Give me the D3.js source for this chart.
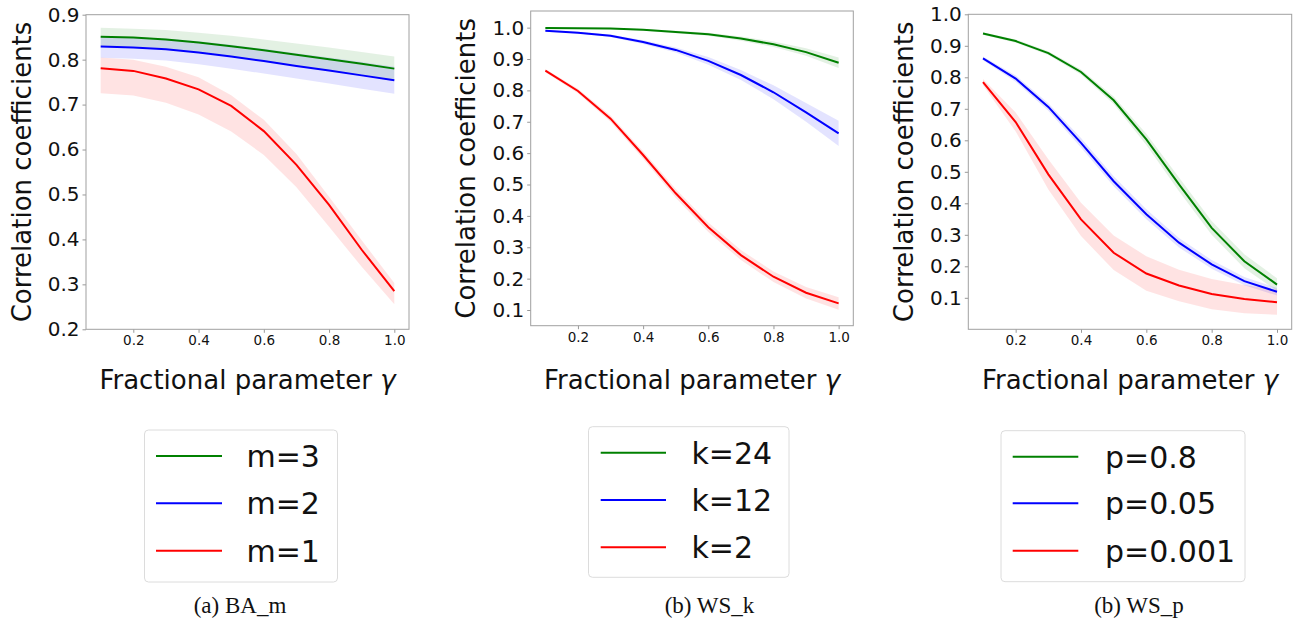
<!DOCTYPE html>
<html>
<head>
<meta charset="utf-8">
<script src="https://cdn.jsdelivr.net/npm/d3@7"></script>
<style>
  body { margin: 0; background: #fff; }
  text { font-family: "DejaVu Sans", sans-serif; }
</style>
</head>
<body>
<svg id="chart" width="1297" height="631"></svg>
<script>
// fractional parameter gamma
const gamma = [0.1, 0.2, 0.3, 0.4, 0.5, 0.6, 0.7, 0.8, 0.9, 1.0];

// (a) BA_m
const baM3 = [0.851, 0.849, 0.845, 0.838, 0.830, 0.821, 0.811, 0.801, 0.791, 0.780];
const baM3Hi = [0.871, 0.869, 0.866, 0.860, 0.853, 0.845, 0.836, 0.827, 0.817, 0.807];
const baM3Lo = [0.831, 0.829, 0.824, 0.816, 0.807, 0.797, 0.786, 0.775, 0.765, 0.753];
const baM2 = [0.829, 0.827, 0.823, 0.816, 0.807, 0.797, 0.786, 0.776, 0.765, 0.754];
const baM2Hi = [0.851, 0.850, 0.847, 0.841, 0.833, 0.824, 0.814, 0.805, 0.795, 0.784];
const baM2Lo = [0.804, 0.802, 0.798, 0.790, 0.780, 0.769, 0.758, 0.747, 0.735, 0.724];
const baM1 = [0.781, 0.775, 0.758, 0.734, 0.697, 0.641, 0.566, 0.477, 0.377, 0.285];
const baM1Hi = [0.805, 0.800, 0.784, 0.761, 0.721, 0.666, 0.590, 0.495, 0.398, 0.303];
const baM1Lo = [0.725, 0.720, 0.704, 0.678, 0.640, 0.588, 0.516, 0.428, 0.339, 0.256];

// (b) WS_k
const wsK24 = [0.999, 0.998, 0.997, 0.993, 0.986, 0.979, 0.965, 0.947, 0.922, 0.888];
const wsK24Hi = [1.001, 1.000, 0.999, 0.996, 0.990, 0.984, 0.972, 0.956, 0.934, 0.905];
const wsK24Lo = [0.997, 0.996, 0.995, 0.990, 0.982, 0.974, 0.958, 0.938, 0.910, 0.871];
const wsK12 = [0.990, 0.984, 0.974, 0.954, 0.929, 0.894, 0.849, 0.794, 0.730, 0.663];
const wsK12Hi = [0.993, 0.987, 0.978, 0.960, 0.937, 0.906, 0.865, 0.816, 0.760, 0.703];
const wsK12Lo = [0.987, 0.981, 0.970, 0.948, 0.921, 0.882, 0.833, 0.772, 0.700, 0.623];
const wsK2 = [0.863, 0.798, 0.710, 0.594, 0.472, 0.364, 0.275, 0.206, 0.155, 0.121];
const wsK2Hi = [0.868, 0.805, 0.720, 0.606, 0.486, 0.379, 0.291, 0.223, 0.173, 0.141];
const wsK2Lo = [0.858, 0.791, 0.700, 0.582, 0.458, 0.349, 0.259, 0.189, 0.137, 0.101];

// (b) WS_p
const wsP08 = [0.939, 0.915, 0.877, 0.817, 0.727, 0.603, 0.460, 0.322, 0.216, 0.142];
const wsP08Hi = [0.943, 0.920, 0.883, 0.825, 0.739, 0.621, 0.482, 0.344, 0.238, 0.162];
const wsP08Lo = [0.935, 0.910, 0.871, 0.809, 0.715, 0.585, 0.438, 0.300, 0.194, 0.122];
const wsP005 = [0.860, 0.796, 0.706, 0.592, 0.470, 0.365, 0.275, 0.206, 0.153, 0.119];
const wsP005Hi = [0.866, 0.806, 0.718, 0.607, 0.486, 0.381, 0.290, 0.220, 0.166, 0.131];
const wsP005Lo = [0.854, 0.786, 0.694, 0.577, 0.454, 0.349, 0.260, 0.192, 0.140, 0.107];
const wsP0001 = [0.785, 0.658, 0.492, 0.349, 0.243, 0.177, 0.139, 0.112, 0.096, 0.086];
const wsP0001Hi = [0.795, 0.688, 0.540, 0.402, 0.298, 0.232, 0.189, 0.160, 0.141, 0.126];
const wsP0001Lo = [0.775, 0.628, 0.444, 0.296, 0.188, 0.122, 0.089, 0.064, 0.051, 0.046];

const xTicks = [0.2, 0.4, 0.6, 0.8, 1.0];
const yTicksA = [0.2, 0.3, 0.4, 0.5, 0.6, 0.7, 0.8, 0.9];
const yTicksB = [0.1, 0.2, 0.3, 0.4, 0.5, 0.6, 0.7, 0.8, 0.9, 1.0];
const legendA = ["m=3", "m=2", "m=1"];
const legendB = ["k=24", "k=12", "k=2"];
const legendC = ["p=0.8", "p=0.05", "p=0.001"];
const captions = ["(a) BA_m", "(b) WS_k", "(b) WS_p"];
const colors = ["#008000", "#0000ff", "#ff0000"];

const panels = [
  { left: 86, right: 409, top: 14.7, bottom: 329.3, yDomain: [0.2, 0.9], yTicks: yTicksA,
    series: [[baM3, baM3Lo, baM3Hi], [baM2, baM2Lo, baM2Hi], [baM1, baM1Lo, baM1Hi]],
    ylabX: 31, legend: legendA, leg: { x: 144.5, y: 430, w: 193, h: 152, lx: 156, lw: 66, tx: 246.5, rows: [456, 503.3, 550.7] },
    caption: captions[0], capX: 240 },
  { left: 530.7, right: 853.3, top: 11, bottom: 325.7, yDomain: [0.05, 1.053], yTicks: yTicksB,
    series: [[wsK24, wsK24Lo, wsK24Hi], [wsK12, wsK12Lo, wsK12Hi], [wsK2, wsK2Lo, wsK2Hi]],
    ylabX: 475, legend: legendB, leg: { x: 588.5, y: 426.7, w: 200.5, h: 150.6, lx: 600.7, lw: 65.3, tx: 691.5, rows: [452.7, 500, 547.3] },
    caption: captions[1], capX: 709.5 },
  { left: 968.3, right: 1291.7, top: 14.3, bottom: 329.3, yDomain: [0.0, 1.0], yTicks: yTicksB,
    series: [[wsP08, wsP08Lo, wsP08Hi], [wsP005, wsP005Lo, wsP005Hi], [wsP0001, wsP0001Lo, wsP0001Hi]],
    ylabX: 913, legend: legendC, leg: { x: 1001, y: 430.7, w: 244, h: 151, lx: 1012.7, lw: 65.6, tx: 1105, rows: [456.7, 503.3, 550.7] },
    caption: captions[2], capX: 1139 }
];

const svg = d3.select("#chart");

panels.forEach(function(p) {
  const x = d3.scaleLinear().domain([0.055, 1.045]).range([p.left, p.right]);
  const y = d3.scaleLinear().domain(p.yDomain).range([p.bottom, p.top]);
  const g = svg.append("g");

  // bands first, then lines
  p.series.forEach(function(s, i) {
    const area = d3.area()
      .x(function(d, j) { return x(gamma[j]); })
      .y0(function(d, j) { return y(s[1][j]); })
      .y1(function(d, j) { return y(s[2][j]); });
    g.append("path").datum(s[0])
      .attr("d", area)
      .attr("fill", colors[i])
      .attr("fill-opacity", 0.11)
      .attr("stroke", "none");
  });
  p.series.forEach(function(s, i) {
    const line = d3.line()
      .x(function(d, j) { return x(gamma[j]); })
      .y(function(d) { return y(d); });
    g.append("path").datum(s[0])
      .attr("d", line)
      .attr("fill", "none")
      .attr("stroke", colors[i])
      .attr("stroke-width", 2);
  });

  const xAxis = g.append("g")
    .attr("transform", "translate(0," + p.bottom + ")")
    .call(d3.axisBottom(x).tickValues(xTicks).tickFormat(d3.format(".1f")).tickSize(3.5).tickPadding(3));
  xAxis.selectAll("text").attr("font-size", "13.5px").attr("fill", "#111");

  const yAxis = g.append("g")
    .attr("transform", "translate(" + p.left + ",0)")
    .call(d3.axisLeft(y).tickValues(p.yTicks).tickFormat(d3.format(".1f")).tickSize(3.5).tickPadding(3));
  yAxis.selectAll("text").attr("font-size", "20px").attr("fill", "#111");

  [xAxis, yAxis].forEach(function(a) {
    a.select(".domain").remove();
    a.selectAll(".tick line").attr("stroke", "#999");
    a.attr("font-family", null);
  });

  g.append("rect")
    .attr("x", p.left).attr("y", p.top)
    .attr("width", p.right - p.left).attr("height", p.bottom - p.top)
    .attr("fill", "none").attr("stroke", "#a0a0a0").attr("stroke-width", 1);

  g.append("text")
    .attr("transform", "translate(" + p.ylabX + "," + ((p.top + p.bottom) / 2) + ") rotate(-90)")
    .attr("text-anchor", "middle")
    .attr("font-size", "26px")
    .attr("fill", "#111")
    .text("Correlation coefficients");

  const xl = g.append("text")
    .attr("x", (p.left + p.right) / 2).attr("y", 389)
    .attr("text-anchor", "middle")
    .attr("font-size", "26px")
    .attr("fill", "#111");
  xl.append("tspan").text("Fractional parameter ");
  xl.append("tspan").attr("font-style", "italic").text("γ");

  // legend
  const L = p.leg;
  g.append("rect")
    .attr("x", L.x).attr("y", L.y).attr("width", L.w).attr("height", L.h)
    .attr("rx", 4).attr("fill", "#fff").attr("stroke", "#dcdcdc");
  p.legend.forEach(function(lab, i) {
    g.append("line")
      .attr("x1", L.lx).attr("x2", L.lx + L.lw)
      .attr("y1", L.rows[i]).attr("y2", L.rows[i])
      .attr("stroke", colors[i]).attr("stroke-width", 2);
    g.append("text")
      .attr("x", L.tx).attr("y", L.rows[i] + 11)
      .attr("font-size", "30px").attr("fill", "#111")
      .text(lab);
  });

  g.append("text")
    .attr("x", p.capX).attr("y", 613)
    .attr("text-anchor", "middle")
    .attr("font-size", "23px")
    .attr("fill", "#111")
    .style("font-family", "'Liberation Serif', serif")
    .text(p.caption);
});
</script>
</body>
</html>
